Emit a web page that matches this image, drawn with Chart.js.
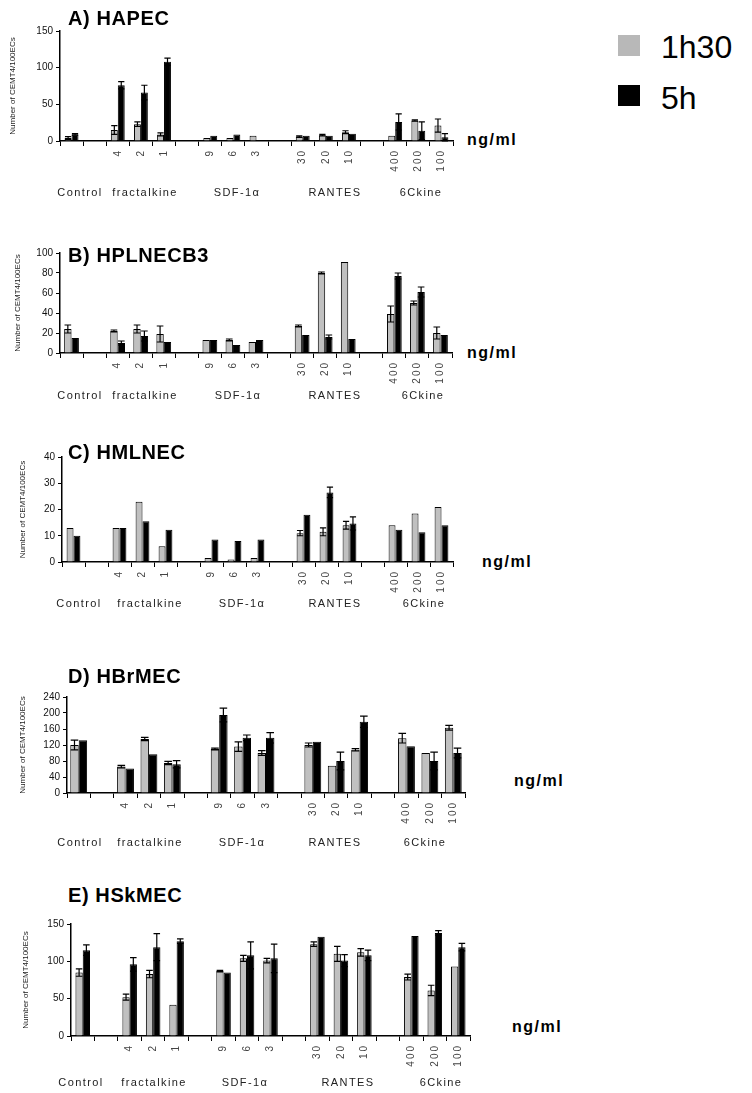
<!DOCTYPE html>
<html><head><meta charset="utf-8">
<script src="https://cdn.jsdelivr.net/npm/chart.js@4"></script>
<style>
body{margin:0;background:#fff;width:752px;height:1093px;position:relative;overflow:hidden;font-family:"Liberation Sans",Arial,sans-serif;}
.abs{position:absolute;white-space:nowrap;line-height:1;transform:translateY(-50%);}
.title{font-weight:bold;font-size:20px;letter-spacing:0.6px;color:#000;}
.unit{font-weight:bold;font-size:16px;letter-spacing:1.5px;color:#000;}
.grp{font-size:11px;letter-spacing:1.4px;color:#222;transform:translate(-50%,-50%);}
.leg{font-size:32px;color:#000;}
.sq{position:absolute;width:22px;height:21px;}
</style></head>
<body>
<script>
// ---------- DATA ----------
const categories = ['', '', '4', '2', '1', '', '9', '6', '3', '', '30', '20', '10', '', '400', '200', '100'];
const groupNames = ['Control', 'fractalkine', 'SDF-1\u03b1', 'RANTES', '6Ckine'];
const seriesNames = ['1h30', '5h'];

const hapec1h30    = [4, null, 15, 23, 9, null, 4, 4, 7, null, 6, 8, 12, null, 7, 28, 21];
const hapec1h30Err = [2, null, 6, 3, 2, null, 0, 0, 0, null, 1, 1, 2, null, 0, 1, 9];
const hapec5h      = [9, null, 76, 66, 108, null, 7, 9, 1, null, 7, 7, 10, null, 26, 14, 5];
const hapec5hErr   = [1, null, 5, 10, 5, null, 0, 0, 0, null, 0, 0, 0, null, 11, 12, 5];

const hplnec1h30    = [24, null, 22, 24, 19, null, 13, 13, 11, null, 27, 80, 91, null, 39, 50, 20];
const hplnec1h30Err = [4, null, 1, 4, 8, null, 0, 1, 0, null, 1, 1, 0, null, 8, 2, 6];
const hplnec5h      = [15, null, 10, 17, 11, null, 13, 8, 13, null, 18, 16, 14, null, 77, 61, 18];
const hplnec5hErr   = [0, null, 2, 5, 0, null, 0, 0, 0, null, 0, 2, 0, null, 3, 5, 0];

const hmlnec1h30    = [13, null, 13, 23, 6, null, 1.5, 1, 1.5, null, 11, 11.5, 14, null, 14, 18.5, 21];
const hmlnec1h30Err = [0, null, 0, 0, 0, null, 0, 0, 0, null, 1, 1.5, 1.5, null, 0, 0, 0];
const hmlnec5h      = [10, null, 13, 15.5, 12.3, null, 8.6, 8, 8.6, null, 18, 26.5, 14.7, null, 12.3, 11.3, 14];
const hmlnec5hErr   = [0, null, 0, 0, 0, null, 0, 0, 0, null, 0, 2, 2.5, null, 0, 0, 0];

const hbrmec1h30    = [120, null, 66, 135, 75, null, 110, 116, 100, null, 120, 68, 108, null, 137, 100, 163];
const hbrmec1h30Err = [12, null, 3, 4, 4, null, 2, 12, 6, null, 5, 0, 3, null, 12, 0, 6];
const hbrmec5h      = [132, null, 61, 97, 72, null, 195, 138, 138, null, 128, 80, 178, null, 117, 80, 100];
const hbrmec5hErr   = [0, null, 0, 0, 9, null, 17, 7, 13, null, 0, 22, 14, null, 0, 22, 12];

const hskmec1h30    = [85, null, 52, 83, 42, null, 87, 104, 101, null, 123, 110, 112, null, 79, 61, 93];
const hskmec1h30Err = [5, null, 4, 5, 0, null, 1, 4, 3, null, 3, 10, 5, null, 4, 7, 0];
const hskmec5h      = [115, null, 96, 119, 127, null, 85, 108, 104, null, 133, 101, 108, null, 134, 138, 119];
const hskmec5hErr   = [7, null, 9, 18, 3, null, 0, 18, 19, null, 0, 8, 7, null, 0, 3, 5];

const panelTitles = ['A) HAPEC', 'B) HPLNECB3', 'C) HMLNEC', 'D) HBrMEC', 'E) HSkMEC'];
const yMax  = [150, 100, 40, 240, 150];
const yStep = [50, 20, 10, 40, 50];
const yTitle = 'Number of CEMT4/100ECs';
const unitLabel = 'ng/ml';

// ---------- LAYOUT ----------
const FONT = '"Liberation Sans", Arial, sans-serif';
const panels = [
  {g:hapec1h30, ge:hapec1h30Err, b:hapec5h, be:hapec5hErr, left:60, right:453, top:31, bottom:141, below:62, cat:0.6, titleY:18, grpY:192, grpX:[80,145,237,335,421], unitX:467, unitY:140, ytx:13},
  {g:hplnec1h30, ge:hplnec1h30Err, b:hplnec5h, be:hplnec5hErr, left:60, right:452, top:253, bottom:353, below:52, cat:0.64, titleY:255, grpY:395, grpX:[80,145,238,335,423], unitX:467, unitY:353, ytx:18},
  {g:hmlnec1h30, ge:hmlnec1h30Err, b:hmlnec5h, be:hmlnec5hErr, left:62, right:453, top:457, bottom:562, below:52, cat:0.6, titleY:452, grpY:603, grpX:[79,150,242,335,424], unitX:482, unitY:562, ytx:23},
  {g:hbrmec1h30, ge:hbrmec1h30Err, b:hbrmec5h, be:hbrmec5hErr, left:67, right:465, top:697, bottom:793, below:58, cat:0.72, titleY:676, grpY:842, grpX:[80,150,242,335,425], unitX:514, unitY:781, ytx:23},
  {g:hskmec1h30, ge:hskmec1h30Err, b:hskmec5h, be:hskmec5hErr, left:71, right:470, top:924, bottom:1036, below:57, cat:0.62, titleY:895, grpY:1082, grpX:[81,154,245,348,441], unitX:512, unitY:1027, ytx:26}
];

const errPlugin = {
  id: 'errbars',
  afterDatasetsDraw(chart) {
    const ctx = chart.ctx, y = chart.scales.y;
    chart.data.datasets.forEach((ds, i) => {
      const meta = chart.getDatasetMeta(i);
      meta.data.forEach((el, j) => {
        const v = ds.data[j], e = ds.err[j];
        if (v == null || !e) return;
        const x = el.x, hw = el.width * 0.45;
        const yt = y.getPixelForValue(v + e), yb = y.getPixelForValue(Math.max(0, v - e));
        ctx.save();
        ctx.strokeStyle = '#000'; ctx.lineWidth = 1.2;
        ctx.beginPath();
        ctx.moveTo(x, yt); ctx.lineTo(x, yb);
        ctx.moveTo(x - hw, yt); ctx.lineTo(x + hw, yt);
        ctx.moveTo(x - hw, yb); ctx.lineTo(x + hw, yb);
        ctx.stroke();
        ctx.restore();
      });
    });
  }
};

function addDiv(cls, text, x, y) {
  const d = document.createElement('div');
  d.className = 'abs ' + cls;
  d.textContent = text;
  d.style.left = x + 'px';
  d.style.top = y + 'px';
  document.body.appendChild(d);
  return d;
}

panels.forEach((p, k) => {
  const padTop = 12;
  const cw = p.right + 8;
  const ch = (p.bottom - p.top) + padTop + p.below;
  const canvas = document.createElement('canvas');
  canvas.width = cw; canvas.height = ch;
  canvas.style.cssText = 'position:absolute;left:0px;top:' + (p.top - padTop) + 'px;width:' + cw + 'px;height:' + ch + 'px;';
  document.body.appendChild(canvas);
  new Chart(canvas, {
    type: 'bar',
    data: {
      labels: categories,
      datasets: [
        {label: seriesNames[0], data: p.g, err: p.ge, backgroundColor: '#c0c0c0', borderColor: '#000', borderWidth: 1},
        {label: seriesNames[1], data: p.b, err: p.be, backgroundColor: '#000', borderColor: '#000', borderWidth: 1}
      ]
    },
    options: {
      responsive: false, animation: false, maintainAspectRatio: false,
      layout: {padding: {top: padTop, right: cw - p.right, left: 0, bottom: 0}},
      plugins: {legend: {display: false}, tooltip: {enabled: false}},
      datasets: {bar: {categoryPercentage: p.cat, barPercentage: 1}},
      scales: {
        x: {
          grid: {drawOnChartArea: false, offset: true, color: '#000', tickLength: 5, tickWidth: 1},
          border: {color: '#000', width: 1.5},
          ticks: {autoSkip: false, maxRotation: 90, minRotation: 90, color: '#444', font: {size: 10, family: FONT}, padding: 3},
          afterFit(s) { s.height = p.below; },
          afterUpdate(s) {
            if (s._lsPatched) return;
            s._lsPatched = true;
            const orig = s.drawLabels.bind(s);
            s.drawLabels = function(area) {
              const c = this.ctx; c.save(); c.letterSpacing = '2px'; orig(area); c.restore();
            };
          }
        },
        y: {
          min: 0, max: yMax[k],
          ticks: {stepSize: yStep[k], color: '#111', font: {size: 10, family: FONT}, padding: 3},
          grid: {drawOnChartArea: false, color: '#000', tickLength: 4},
          border: {color: '#000', width: 1.5},
          title: {display: true, text: yTitle, font: {size: 8, family: FONT}, color: '#222', padding: {top: p.ytx - 5, bottom: 0}},
          afterFit(s) { s.width = p.left; }
        }
      }
    },
    plugins: [errPlugin]
  });
  addDiv('title', panelTitles[k], 68, p.titleY);
  addDiv('unit', unitLabel, p.unitX, p.unitY);
  groupNames.forEach((n, gi) => addDiv('grp', n, p.grpX[gi], p.grpY));
});

// legend
const sq1 = document.createElement('div'); sq1.className = 'sq'; sq1.style.cssText += 'left:618px;top:35px;background:#b8b8b8;'; document.body.appendChild(sq1);
const sq2 = document.createElement('div'); sq2.className = 'sq'; sq2.style.cssText += 'left:618px;top:85px;background:#000;'; document.body.appendChild(sq2);
addDiv('leg', seriesNames[0], 661, 47);
addDiv('leg', seriesNames[1], 661, 98);
</script>
</body></html>
